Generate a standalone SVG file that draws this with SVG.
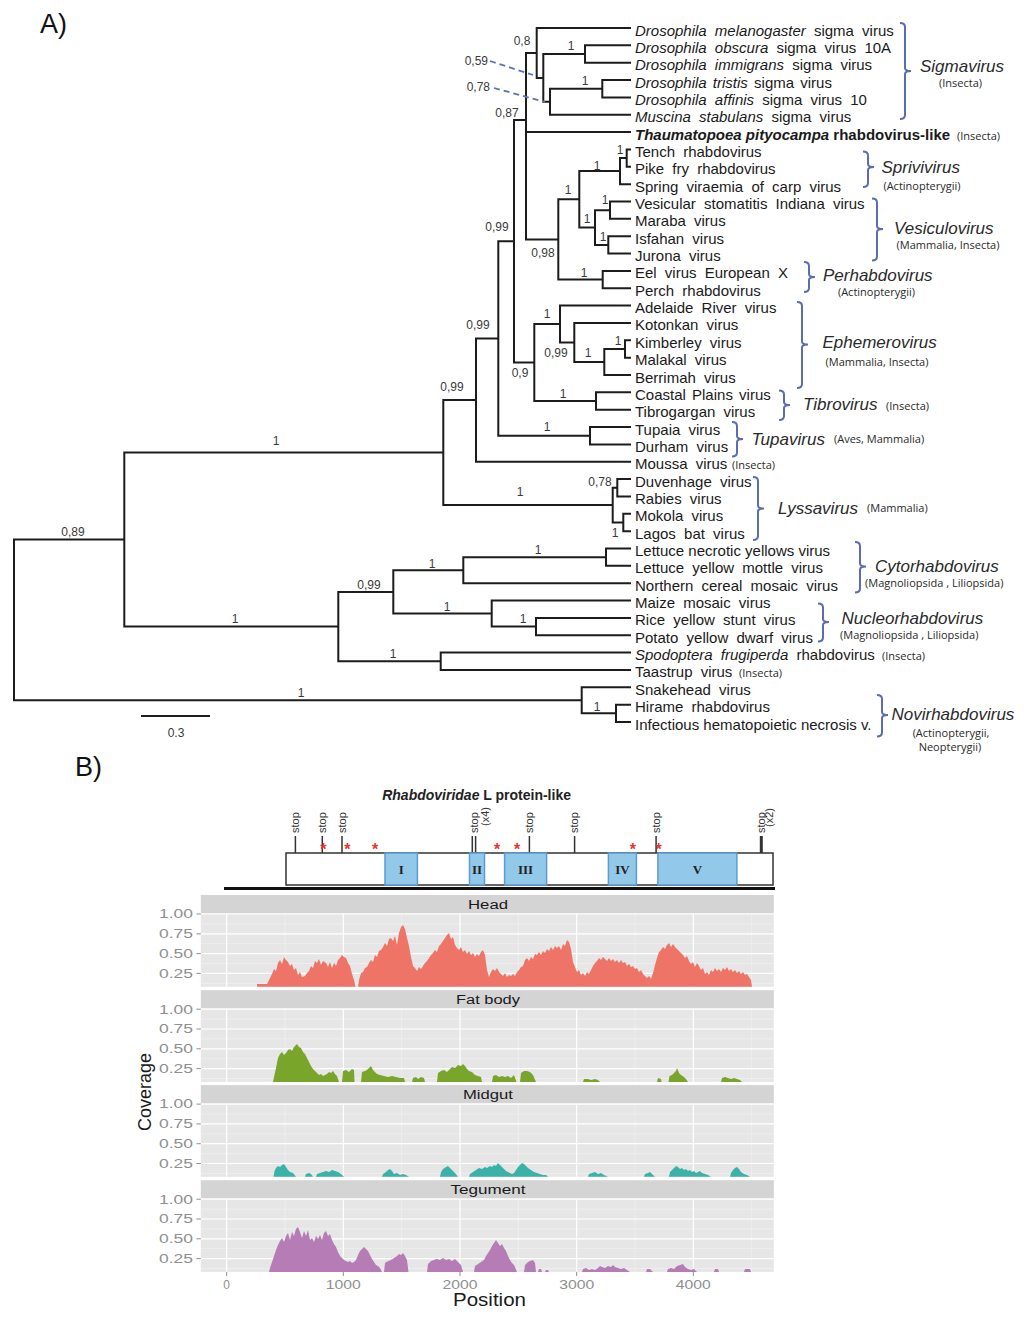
<svg xmlns="http://www.w3.org/2000/svg" width="1024" height="1317" viewBox="0 0 1024 1317">
<style>
.br{fill:none;stroke:#1c1c1c;stroke-width:2;stroke-linecap:square}
.lf{font-family:"Liberation Sans",Arial,sans-serif;font-size:15px;fill:#1a1a1a}
.ws{word-spacing:4px}
.it{font-style:italic}
.sm{font-family:"Open Sans","Liberation Sans",sans-serif;font-size:11px;fill:#2a2a2a}
.smc{font-family:"Open Sans","Liberation Sans",sans-serif;font-size:11px;fill:#2a2a2a;text-anchor:middle}
.gn{font-family:"Liberation Sans",Arial,sans-serif;font-style:italic;font-size:17px;fill:#2a2a2a}
.bk{fill:none;stroke:#5a6db3;stroke-width:2}
.bs{font-family:"Liberation Sans",Arial,sans-serif;font-size:12px;fill:#3a3a3a;text-anchor:middle}
.bse{font-family:"Liberation Sans",Arial,sans-serif;font-size:12px;fill:#3a3a3a;text-anchor:end}
.dash{fill:none;stroke:#5b74b5;stroke-width:1.8;stroke-dasharray:6 4}
.pl{font-family:"Liberation Sans",Arial,sans-serif;font-size:27px;fill:#111}
.stp{font-family:"Liberation Sans",Arial,sans-serif;font-size:11px;fill:#333}
.tk{stroke:#333;stroke-width:1.5}
.ast{font-family:"Liberation Sans",Arial,sans-serif;font-size:16px;font-weight:bold;fill:#e8342f;text-anchor:middle}
.dom{fill:#93c9e8;stroke:#5b9bd5;stroke-width:1.5}
.rn{font-family:"Liberation Serif","Times New Roman",serif;font-size:13px;font-weight:bold;fill:#222;text-anchor:middle}
.pbg{fill:#E6E6E6}
.gmaj{stroke:#fff;stroke-width:1.2}
.gmin{stroke:#f3f3f3;stroke-width:0.6}
.strip{fill:#D4D4D4}
.stl{font-family:"Liberation Sans",Arial,sans-serif;font-size:12px;fill:#1a1a1a;text-anchor:middle}
.ytl{font-family:"Liberation Sans",Arial,sans-serif;font-size:12px;fill:#8f8f8f;text-anchor:end}
.xtl{font-family:"Liberation Sans",Arial,sans-serif;font-size:12px;fill:#8f8f8f;text-anchor:middle}
.axt{stroke:#8f8f8f;stroke-width:1}
.axl{font-family:"Liberation Sans",Arial,sans-serif;font-size:18px;fill:#1a1a1a;text-anchor:middle}
</style>
<defs>
<g id="panel">
<rect class="pbg" x="200.8" y="0" width="573" height="73.4"/>
<path class="gmin" d="M200.8,10.6H773.8M200.8,30.4H773.8M200.8,50.2H773.8M200.8,70H773.8M285,0V73.4M401.7,0V73.4M518.3,0V73.4M635,0V73.4M751.7,0V73.4"/>
<path class="gmaj" d="M200.8,0.7H773.8M200.8,20.5H773.8M200.8,40.3H773.8M200.8,60.1H773.8M226.7,0V73.4M343.3,0V73.4M460,0V73.4M576.7,0V73.4M693.3,0V73.4"/>
<path class="axt" d="M196.5,0.7H200.8M196.5,20.5H200.8M196.5,40.3H200.8M196.5,60.1H200.8"/>
<text class="ytl" x="193" y="5" textLength="34" lengthAdjust="spacingAndGlyphs">1.00</text>
<text class="ytl" x="193" y="24.8" textLength="34" lengthAdjust="spacingAndGlyphs">0.75</text>
<text class="ytl" x="193" y="44.6" textLength="34" lengthAdjust="spacingAndGlyphs">0.50</text>
<text class="ytl" x="193" y="64.4" textLength="34" lengthAdjust="spacingAndGlyphs">0.25</text>
</g>
</defs>
<rect width="1024" height="1317" fill="#fff"/>

<text class="pl" x="40" y="33">A)</text>
<text class="pl" x="75" y="776">B)</text>

<!-- Tree connectors -->
<g id="connectors">
<path class="br" d="M14,539.6V700.3M14,539.6H124.3M14,700.3H581.7
M124.3,452.6V626.6M124.3,452.6H443.3M124.3,626.6H338.3
M443.3,400.1V505.1M443.3,400.1H476M443.3,505.1H612.7
M476,338.5V461.75M476,338.5H498.3M476,461.75H630
M498.3,241.3V435.7M498.3,241.3H514M498.3,435.7H590
M590,427.05V444.4M590,427.05H630M590,444.4H630
M514,120V362.5M514,120H526M514,362.5H534.3
M526,53V239.5M526,53H536.7M526,132.1H630M526,239.5H558.3
M536.7,28V77.9M536.7,28H630M536.7,77.9H543.3
M543.3,54V101.7M543.3,54H585M543.3,101.7H550
M585,45.35V62.7M585,45.35H630M585,62.7H630
M550,88.7V114.75M550,88.7H602.3M550,114.75H630
M602.3,80.05V97.4M602.3,80.05H630M602.3,97.4H630
M558.3,199.3V279.6M558.3,199.3H579.3M558.3,279.6H602.7
M579.3,171.1V227.5M579.3,171.1H620M579.3,227.5H595
M620,158.1V184.15M620,158.1H626.7M620,184.15H630
M626.7,149.45V166.8M626.7,149.45H630M626.7,166.8H630
M595,210.2V244.9M595,210.2H610M595,244.9H608.3
M610,201.5V218.85M610,201.5H630M610,218.85H630
M608.3,236.2V253.55M608.3,236.2H630M608.3,253.55H630
M602.7,270.9V288.25M602.7,270.9H630M602.7,288.25H630
M534.3,324V401M534.3,324H560M534.3,401H596
M560,305.6V342.5M560,305.6H630M560,342.5H574.3
M574.3,322.95V362M574.3,322.95H630M574.3,362H604.3
M604.3,349V375M604.3,349H625M604.3,375H630
M625,340.3V357.65M625,340.3H630M625,357.65H630
M596,392.35V409.7M596,392.35H630M596,409.7H630
M612.7,487.8V522.5M612.7,487.8H617.3M612.7,522.5H623.3
M617.3,479.1V496.45M617.3,479.1H630M617.3,496.45H630
M623.3,513.8V531.15M623.3,513.8H630M623.3,531.15H630
M338.3,591.9V661.3M338.3,591.9H393.3M338.3,661.3H440.7
M393.3,570.2V613.6M393.3,570.2H463.3M393.3,613.6H491.7
M463.3,557.2V583.2M463.3,557.2H606M463.3,583.2H630
M606,548.5V565.85M606,548.5H630M606,565.85H630
M491.7,600.55V626.6M491.7,600.55H630M491.7,626.6H536
M536,617.9V635.25M536,617.9H630M536,635.25H630
M440.7,652.6V669.95M440.7,652.6H630M440.7,669.95H630
M581.7,687.3V713.3M581.7,687.3H630M581.7,713.3H616
M616,704.65V722M616,704.65H630M616,722H630"/>
<path class="dash" d="M490,61L533,75M494,88L545,102"/>
<path d="M141,716H210" stroke="#1c1c1c" stroke-width="2"/>
</g>

<!-- support values -->
<g id="support-values">
<text class="bs" x="522" y="45">0,8</text>
<text class="bs" x="571" y="50">1</text>
<text class="bs" x="585" y="85">1</text>
<text class="bse" x="488" y="65">0,59</text>
<text class="bse" x="490" y="91">0,78</text>
<text class="bs" x="507" y="117">0,87</text>
<text class="bs" x="620" y="153.5">1</text>
<text class="bs" x="597" y="170">1</text>
<text class="bs" x="568" y="194">1</text>
<text class="bs" x="605" y="204">1</text>
<text class="bs" x="587" y="223">1</text>
<text class="bs" x="603" y="241">1</text>
<text class="bs" x="584" y="277">1</text>
<text class="bs" x="543" y="257">0,98</text>
<text class="bs" x="497" y="231">0,99</text>
<text class="bs" x="478" y="329">0,99</text>
<text class="bs" x="452" y="391">0,99</text>
<text class="bs" x="520" y="377">0,9</text>
<text class="bs" x="547" y="318">1</text>
<text class="bs" x="556" y="357">0,99</text>
<text class="bs" x="588" y="357">1</text>
<text class="bs" x="618" y="345">1</text>
<text class="bs" x="563" y="398">1</text>
<text class="bs" x="547" y="431">1</text>
<text class="bs" x="600" y="486">0,78</text>
<text class="bs" x="520" y="496">1</text>
<text class="bs" x="615" y="537">1</text>
<text class="bs" x="538" y="554">1</text>
<text class="bs" x="432" y="568">1</text>
<text class="bs" x="369" y="589">0,99</text>
<text class="bs" x="447" y="611">1</text>
<text class="bs" x="523" y="623">1</text>
<text class="bs" x="393" y="658">1</text>
<text class="bs" x="597" y="711">1</text>
<text class="bs" x="73" y="536">0,89</text>
<text class="bs" x="276" y="445">1</text>
<text class="bs" x="235" y="623">1</text>
<text class="bs" x="301" y="697">1</text>
<text class="bs" x="176" y="737" font-size="13">0.3</text>
</g>

<!-- leaves -->
<g id="leaf-01"><text class="lf ws" x="635" y="35.5"><tspan class="it">Drosophila melanogaster</tspan> sigma virus</text></g>
<g id="leaf-02"><text class="lf ws" x="635" y="52.85"><tspan class="it">Drosophila obscura</tspan> sigma virus 10A</text></g>
<g id="leaf-03"><text class="lf ws" x="635" y="70.2"><tspan class="it">Drosophila immigrans</tspan> sigma virus</text></g>
<g id="leaf-04"><text class="lf" x="635" y="87.55" style="word-spacing:2px"><tspan class="it">Drosophila tristis</tspan> sigma virus</text></g>
<g id="leaf-05"><text class="lf ws" x="635" y="104.9"><tspan class="it">Drosophila affinis</tspan> sigma virus 10</text></g>
<g id="leaf-06"><text class="lf ws" x="635" y="122.25"><tspan class="it">Muscina stabulans</tspan> sigma virus</text></g>
<g id="leaf-07"><text class="lf" x="635" y="139.6" font-weight="bold"><tspan class="it">Thaumatopoea pityocampa</tspan> rhabdovirus-like</text><text class="sm" x="957" y="139.6">(Insecta)</text></g>
<g id="leaf-08"><text class="lf ws" x="635" y="156.95">Tench rhabdovirus</text></g>
<g id="leaf-09"><text class="lf ws" x="635" y="174.3">Pike fry rhabdovirus</text></g>
<g id="leaf-10"><text class="lf ws" x="635" y="191.65">Spring viraemia of carp virus</text></g>
<g id="leaf-11"><text class="lf ws" x="635" y="209">Vesicular stomatitis Indiana virus</text></g>
<g id="leaf-12"><text class="lf ws" x="635" y="226.35">Maraba virus</text></g>
<g id="leaf-13"><text class="lf ws" x="635" y="243.7">Isfahan virus</text></g>
<g id="leaf-14"><text class="lf ws" x="635" y="261.05">Jurona virus</text></g>
<g id="leaf-15"><text class="lf ws" x="635" y="278.4">Eel virus European X</text></g>
<g id="leaf-16"><text class="lf ws" x="635" y="295.75">Perch rhabdovirus</text></g>
<g id="leaf-17"><text class="lf ws" x="635" y="313.1">Adelaide River virus</text></g>
<g id="leaf-18"><text class="lf ws" x="635" y="330.45">Kotonkan virus</text></g>
<g id="leaf-19"><text class="lf ws" x="635" y="347.8">Kimberley virus</text></g>
<g id="leaf-20"><text class="lf ws" x="635" y="365.15">Malakal virus</text></g>
<g id="leaf-21"><text class="lf ws" x="635" y="382.5">Berrimah virus</text></g>
<g id="leaf-22"><text class="lf" x="635" y="399.85" style="word-spacing:2px">Coastal Plains virus</text></g>
<g id="leaf-23"><text class="lf ws" x="635" y="417.2">Tibrogargan virus</text></g>
<g id="leaf-24"><text class="lf ws" x="635" y="434.55">Tupaia virus</text></g>
<g id="leaf-25"><text class="lf ws" x="635" y="451.9">Durham virus</text></g>
<g id="leaf-26"><text class="lf ws" x="635" y="469.25">Moussa virus</text><text class="sm" x="732" y="469.25">(Insecta)</text></g>
<g id="leaf-27"><text class="lf ws" x="635" y="486.6">Duvenhage virus</text></g>
<g id="leaf-28"><text class="lf ws" x="635" y="503.95">Rabies virus</text></g>
<g id="leaf-29"><text class="lf ws" x="635" y="521.3">Mokola virus</text></g>
<g id="leaf-30"><text class="lf ws" x="635" y="538.65">Lagos bat virus</text></g>
<g id="leaf-31"><text class="lf" x="635" y="556">Lettuce necrotic yellows virus</text></g>
<g id="leaf-32"><text class="lf ws" x="635" y="573.35">Lettuce yellow mottle virus</text></g>
<g id="leaf-33"><text class="lf ws" x="635" y="590.7">Northern cereal mosaic virus</text></g>
<g id="leaf-34"><text class="lf ws" x="635" y="608.05">Maize mosaic virus</text></g>
<g id="leaf-35"><text class="lf ws" x="635" y="625.4">Rice yellow stunt virus</text></g>
<g id="leaf-36"><text class="lf ws" x="635" y="642.75">Potato yellow dwarf virus</text></g>
<g id="leaf-37"><text class="lf ws" x="635" y="660.1"><tspan class="it">Spodoptera frugiperda</tspan> rhabdovirus</text><text class="sm" x="882" y="660.1">(Insecta)</text></g>
<g id="leaf-38"><text class="lf ws" x="635" y="677.45">Taastrup virus</text><text class="sm" x="739" y="677.45">(Insecta)</text></g>
<g id="leaf-39"><text class="lf ws" x="635" y="694.8">Snakehead virus</text></g>
<g id="leaf-40"><text class="lf ws" x="635" y="712.15">Hirame rhabdovirus</text></g>
<g id="leaf-41"><text class="lf" x="635" y="729.5">Infectious hematopoietic necrosis v.</text></g>

<!-- clade brackets -->
<g id="clade-sigmavirus"><path class="bk" d="M900,23Q905,23 905,27V68Q905,71 911,71Q905,71 905,74V115Q905,119 900,119"/><text class="gn" x="920" y="72">Sigmavirus</text><text class="smc" x="960.5" y="86.5">(Insecta)</text></g>
<g id="clade-sprivivirus"><path class="bk" d="M863,151.5Q868,151.5 868,155.5V164Q868,167 874,167Q868,167 868,170V183Q868,187 863,187"/><text class="gn" x="881.5" y="172.5">Sprivivirus</text><text class="smc" x="922" y="189.5">(Actinopterygii)</text></g>
<g id="clade-vesiculovirus"><path class="bk" d="M872,198.5Q877,198.5 877,202.5V226Q877,229 883,229Q877,229 877,232V256.5Q877,260.5 872,260.5"/><text class="gn" x="894" y="233.5">Vesiculovirus</text><text class="smc" x="948" y="249">(Mammalia, Insecta)</text></g>
<g id="clade-perhabdovirus"><path class="bk" d="M804,262Q809,262 809,266V274Q809,277 815,277Q809,277 809,280V288Q809,292 804,292"/><text class="gn" x="823" y="281">Perhabdovirus</text><text class="smc" x="876.5" y="295.5">(Actinopterygii)</text></g>
<g id="clade-ephemerovirus"><path class="bk" d="M797,302Q802,302 802,306V341.5Q802,344.5 808,344.5Q802,344.5 802,347.5V384Q802,388 797,388"/><text class="gn" x="822.5" y="347.5">Ephemerovirus</text><text class="smc" x="877" y="365.5">(Mammalia, Insecta)</text></g>
<g id="clade-tibrovirus"><path class="bk" d="M779,390.5Q784,390.5 784,394.5V402Q784,405 790,405Q784,405 784,408V416Q784,420 779,420"/><text class="gn" x="803" y="410">Tibrovirus</text><text class="sm" x="886" y="409.5">(Insecta)</text></g>
<g id="clade-tupavirus"><path class="bk" d="M732,422Q737,422 737,426V436Q737,439 743,439Q737,439 737,442V452.5Q737,456.5 732,456.5"/><text class="gn" x="751.5" y="444.5">Tupavirus</text><text class="sm" x="834" y="443">(Aves, Mammalia)</text></g>
<g id="clade-lyssavirus"><path class="bk" d="M753,477Q758,477 758,481V505.5Q758,508.5 764,508.5Q758,508.5 758,511.5V536Q758,540 753,540"/><text class="gn" x="778" y="513.5">Lyssavirus</text><text class="sm" x="867" y="512">(Mammalia)</text></g>
<g id="clade-cytorhabdovirus"><path class="bk" d="M855,542Q860,542 860,546V563.5Q860,566.5 866,566.5Q860,566.5 860,569.5V588.5Q860,592.5 855,592.5"/><text class="gn" x="875" y="572">Cytorhabdovirus</text><text class="sm" x="865" y="587">(Magnoliopsida , Liliopsida)</text></g>
<g id="clade-nucleorhabdovirus"><path class="bk" d="M818,603.5Q823,603.5 823,607.5V619Q823,622 829,622Q823,622 823,625V637.5Q823,641.5 818,641.5"/><text class="gn" x="841.5" y="623.5">Nucleorhabdovirus</text><text class="sm" x="840" y="639">(Magnoliopsida , Liliopsida)</text></g>
<g id="clade-novirhabdovirus"><path class="bk" d="M877,695Q882,695 882,699V712Q882,715 888,715Q882,715 882,718V732.5Q882,736.5 877,736.5"/><text class="gn" x="891.5" y="720">Novirhabdovirus</text><text class="smc" x="951" y="737">(Actinopterygii,</text><text class="smc" x="950" y="750.5">Neopterygii)</text></g>

<!-- Part B: gene map -->
<g id="gene-map">
<text x="476.6" y="799.5" font-family="Liberation Sans, Arial, sans-serif" font-size="14" font-weight="bold" text-anchor="middle" fill="#222"><tspan font-style="italic">Rhabdoviridae</tspan> L protein-like</text>
<path class="tk" d="M295.4,836V853M322.3,836V853M342,836V853M472.3,836V853M475.6,836V853M529.4,836V853M574.6,836V853M656.1,836V853"/>
<path d="M761.3,836V853" stroke="#333" stroke-width="3"/>
<text class="stp" transform="translate(299.2,833) rotate(-90)">stop</text>
<text class="stp" transform="translate(326.1,833) rotate(-90)">stop</text>
<text class="stp" transform="translate(345.8,833) rotate(-90)">stop</text>
<text class="stp" transform="translate(477.8,833) rotate(-90)">stop</text>
<text class="stp" transform="translate(489,826) rotate(-90)" font-size="9">(x4)</text>
<text class="stp" transform="translate(533.2,833) rotate(-90)">stop</text>
<text class="stp" transform="translate(578.4,833) rotate(-90)">stop</text>
<text class="stp" transform="translate(659.9,833) rotate(-90)">stop</text>
<text class="stp" transform="translate(765.1,833) rotate(-90)">stop</text>
<text class="stp" transform="translate(772.5,827) rotate(-90)" font-size="9">(x2)</text>
<rect x="286" y="853" width="487" height="32" fill="#fff" stroke="#333" stroke-width="1.5"/>
<rect class="dom" x="385" y="853" width="32.4" height="32"/>
<rect class="dom" x="469.5" y="853" width="15" height="32"/>
<rect class="dom" x="504.6" y="853" width="42" height="32"/>
<rect class="dom" x="608.4" y="853" width="28" height="32"/>
<rect class="dom" x="657.9" y="853" width="79" height="32"/>
<text class="rn" x="401.2" y="873.5">I</text>
<text class="rn" x="477" y="873.5">II</text>
<text class="rn" x="525.6" y="873.5">III</text>
<text class="rn" x="622.4" y="873.5">IV</text>
<text class="rn" x="697.4" y="873.5">V</text>
<text class="ast" x="323.4" y="854.5">*</text>
<text class="ast" x="347.4" y="854.5">*</text>
<text class="ast" x="375" y="854.5">*</text>
<text class="ast" x="497.1" y="854.5">*</text>
<text class="ast" x="517.2" y="854.5">*</text>
<text class="ast" x="632.8" y="854.5">*</text>
<text class="ast" x="658.6" y="854.5">*</text>
<line x1="224" y1="888.5" x2="775" y2="888.5" stroke="#111" stroke-width="3"/>
</g>

<!-- Part B: coverage panels -->
<g id="panel-head">
<rect class="strip" x="200.8" y="895" width="573" height="18.3"/>
<text class="stl" x="488" y="908.5" textLength="40" lengthAdjust="spacingAndGlyphs">Head</text>
<use href="#panel" transform="translate(0,913.3)"/>
<path fill="#EE7468" d="M257,986.7L257,984L267,984L270,978L272,974L274,969L276,971L278,963L280,960L282,964L284,957L286,960L288,962L290,966L292,964L294,970L296,968L298,975L300,972L302,977L305,976L307,973L309,971L311,966L313,968L315,961L317,963L319,959L321,965L323,961L326,963L328,967L330,962L332,968L334,963L336,966L338,960L340,958L342,955L344,957L346,958L348,963L350,966L352,974L354,980L355.5,986.7L358,986.7L359,980L361,973L363,972L365,968L367,967L369,963L371,960L373,962L375,955L377,957L379,951L381,950L383,947L385,943L387,946L389,939L391,938L393,941L395,936L397,945L399,933L401,927L403,925L405,929L407,938L409,946L411,957L413,966L415,968L417,971L419,967L421,969L423,966L425,963L427,961L429,958L431,955L433,953L435,950L437,952L439,946L441,944L443,941L445,938L447,935L449,933L451,939L453,937L455,945L457,948L459,950L461,947L463,952L465,950L467,954L469,951L471,955L473,953L475,957L477,954L479,956L481,952L483,950L485,955L487,970L489,977L491,972L493,969L495,971L497,968L499,972L501,974L503,976L505,973L507,977L509,975L511,976L513,974L515,976L517,972L519,970L521,967L523,966L525,960L527,958L529,961L531,957L533,959L535,954L537,955L539,952L541,955L543,951L545,953L547,949L549,951L551,947L553,950L555,946L557,948L559,946L561,950L563,944L565,946L567,940L569,942L571,949L573,962L575,967L577,972L579,970L581,975L583,973L585,976L587,972L589,974L591,970L593,966L595,963L597,961L599,958L601,960L603,957L605,959L607,961L609,958L611,961L613,959L615,962L617,960L619,963L621,960L623,963L625,962L627,966L629,964L631,967L633,966L635,969L637,968L639,972L641,970L643,974L645,976L647,978L649,976L651,979L653,973L655,965L657,958L659,952L661,950L663,947L665,949L667,945L669,943L671,947L673,944L675,947L677,949L679,951L681,953L683,955L685,958L687,956L689,961L691,964L693,962L695,967L697,963L699,966L701,970L703,968L705,974L707,972L709,975L711,970L713,972L715,968L717,971L719,969L721,972L723,968L725,970L727,967L729,971L731,969L733,972L735,970L737,973L739,971L741,974L743,972L745,975L747,974L749,977L751,980L752,986.7Z"/>
</g>

<g id="panel-fatbody">
<rect class="strip" x="200.8" y="990.2" width="573" height="18.3"/>
<text class="stl" x="488" y="1003.7" textLength="64" lengthAdjust="spacingAndGlyphs">Fat body</text>
<use href="#panel" transform="translate(0,1008.5)"/>
<path fill="#7AA52B" d="M273,1081.9L274,1077L276,1068L278,1058L280,1054L282,1052L284,1055L286,1053L288,1050L290,1049L292,1051L294,1047L296,1045L297,1044L299,1047L301,1048L303,1052L305,1054L307,1058L309,1062L311,1066L313,1069L315,1071L317,1073L319,1075L321,1074L323,1076L325,1075L327,1074L329,1072L331,1073L333,1071L335,1074L337,1076L339,1081.9Z
M342,1081.9L343,1071L346,1070L349,1072L352,1069L354,1070L354.5,1081.9Z
M361,1081.9L362,1072L365,1071L367,1070L369,1068L371,1066L373,1070L375,1072L377,1074L380,1075L384,1076L388,1077L392,1076L396,1077L400,1078L404,1078L405,1081.9Z
M412,1081.9L413,1078L416,1077L418,1079L421,1077L424,1078L425,1081.9Z
M437,1081.9L438,1073L441,1071L444,1070L447,1072L450,1069L452,1067L455,1068L458,1065L461,1066L463,1064L465,1066L467,1069L469,1071L472,1072L475,1075L478,1076L481,1077L482,1081.9Z
M492,1081.9L493,1076L496,1075L499,1077L502,1076L505,1077L508,1076L511,1078L514,1075L516.5,1081.9Z
M520,1081.9L521,1073L524,1071L527,1071L530,1072L533,1075L536,1081.9Z
M583,1081.9L584,1079L588,1079L591,1080L595,1079L598,1080L600,1081.9Z
M657,1081.9L658,1078L661,1079L661.5,1081.9Z
M668.5,1081.9L669.5,1076L672,1075L674,1073L676,1071L677,1068L679,1073L681,1075L684,1077L686,1079L688,1081.9Z
M721,1081.9L722,1078L725,1077L728,1078L731,1079L734,1078L737,1079L740,1080L742,1081.9Z"/>
</g>

<g id="panel-midgut">
<rect class="strip" x="200.8" y="1085.1" width="573" height="18.3"/>
<text class="stl" x="488" y="1098.6" textLength="50" lengthAdjust="spacingAndGlyphs">Midgut</text>
<use href="#panel" transform="translate(0,1103.4)"/>
<path fill="#3BB2A8" d="M273.5,1176.8L274.5,1171L276,1168L278,1166L280,1167L282,1165L284,1164L286,1167L288,1170L290,1172L293,1173L296,1176.8Z
M305,1176.8L306,1174L309,1173L311,1174L313,1176.8Z
M316,1176.8L317,1174L320,1173L323,1172L326,1171L329,1172L332,1170L335,1171L338,1172L341,1174L344,1176.8Z
M382,1176.8L383,1174L386,1172L388,1170L390,1169L392,1171L394,1174L397,1173L400,1175L403,1174L406,1175L409,1176.8Z
M440,1176.8L441,1172L443,1169L446,1167L448,1166L450,1168L452,1170L455,1173L458,1176.8Z
M469,1176.8L470,1174L473,1172L476,1170L479,1168L482,1169L485,1167L487,1168L490,1166L492,1167L494,1165L496,1166L498,1163L500,1165L502,1167L504,1169L506,1171L508,1172L510,1173L512,1174L514,1173L516,1170L518,1167L520,1165L522,1163L524,1164L526,1166L528,1168L531,1170L534,1172L537,1173L540,1174L543,1175L546,1175L548,1176.8Z
M588,1176.8L589,1174L592,1173L595,1172L598,1174L601,1173L604,1175L608,1176.8Z
M644,1176.8L645,1174L648,1173L650,1172L652,1174L655,1176.8Z
M669,1176.8L670,1172L672,1170L674,1168L676,1166L678,1167L680,1169L682,1168L684,1170L686,1169L688,1171L690,1170L692,1172L694,1171L696,1173L698,1172L700,1171L702,1173L705,1174L708,1175L711,1176.8Z
M730,1176.8L731,1173L733,1170L735,1168L737,1167L739,1169L741,1172L744,1174L747,1175L750,1176.8Z"/>
</g>

<g id="panel-tegument">
<rect class="strip" x="200.8" y="1180.2" width="573" height="18.3"/>
<text class="stl" x="488" y="1193.7" textLength="75" lengthAdjust="spacingAndGlyphs">Tegument</text>
<use href="#panel" transform="translate(0,1198.5)"/>
<path fill="#B57CB5" d="M269,1271.9L270,1268L272,1262L274,1256L276,1250L278,1245L280,1241L282,1238L284,1242L286,1236L288,1233L290,1240L292,1232L294,1236L296,1229L298,1227L300,1232L302,1238L304,1231L306,1236L308,1230L310,1240L312,1238L314,1242L316,1236L318,1239L320,1235L322,1240L324,1233L326,1231L328,1236L330,1234L332,1240L334,1244L336,1247L338,1252L340,1256L342,1258L344,1260L346,1261L348,1262L350,1261L352,1263L354,1262L356,1260L358,1255L360,1251L362,1249L364,1247L366,1249L368,1251L370,1255L372,1259L374,1262L376,1265L378,1266L380,1268L382,1271.9Z
M384,1271.9L385,1263L388,1261L391,1260L394,1258L397,1256L399,1254L401,1255L403,1253L405,1256L407,1260L408.5,1271.9Z
M427,1271.9L428,1264L431,1261L434,1260L437,1259L440,1260L443,1258L446,1260L449,1259L452,1261L455,1259L458,1262L461,1265L463,1271.9Z
M474,1271.9L475,1266L478,1264L481,1262L484,1260L486,1256L488,1253L490,1250L492,1246L494,1243L496,1240L498,1243L500,1246L502,1244L504,1248L506,1251L508,1256L510,1260L512,1263L514,1265L517,1271.9Z
M524,1271.9L525,1265L528,1262L530,1261L533,1260L535,1263L536,1271.9Z
M538,1271.9L539,1269L541,1269L542,1271.9Z
M545,1271.9L546,1270L548,1270L549,1271.9Z
M582,1271.9L583,1269L586,1268L589,1270L592,1269L595,1270L598,1268L600,1266L602,1267L605,1268L608,1266L611,1267L613,1265L615,1267L618,1268L621,1269L624,1268L627,1270L630,1271.9Z
M646,1271.9L647,1269L650,1269L653,1271.9Z
M667,1271.9L668,1269L671,1268L674,1269L677,1266L680,1265L683,1264L685,1267L688,1269L691,1270L694,1269L697,1271.9Z
M714,1271.9L715,1269L718,1269L719,1271.9Z
M744,1271.9L745,1269L750,1269L751,1271.9Z"/>
</g>

<g id="axes">
<path class="axt" d="M226.7,1271.9V1276M343.3,1271.9V1276M460,1271.9V1276M576.7,1271.9V1276M693.3,1271.9V1276"/>
<text class="xtl" x="226.7" y="1288.5">0</text>
<text class="xtl" x="343.3" y="1288.5" textLength="35" lengthAdjust="spacingAndGlyphs">1000</text>
<text class="xtl" x="460" y="1288.5" textLength="35" lengthAdjust="spacingAndGlyphs">2000</text>
<text class="xtl" x="576.7" y="1288.5" textLength="35" lengthAdjust="spacingAndGlyphs">3000</text>
<text class="xtl" x="693.3" y="1288.5" textLength="35" lengthAdjust="spacingAndGlyphs">4000</text>
<text class="axl" x="489.5" y="1306" textLength="73" lengthAdjust="spacingAndGlyphs">Position</text>
<text class="axl" transform="translate(151,1092) rotate(-90)" textLength="78" lengthAdjust="spacingAndGlyphs">Coverage</text>
</g>
</svg>
